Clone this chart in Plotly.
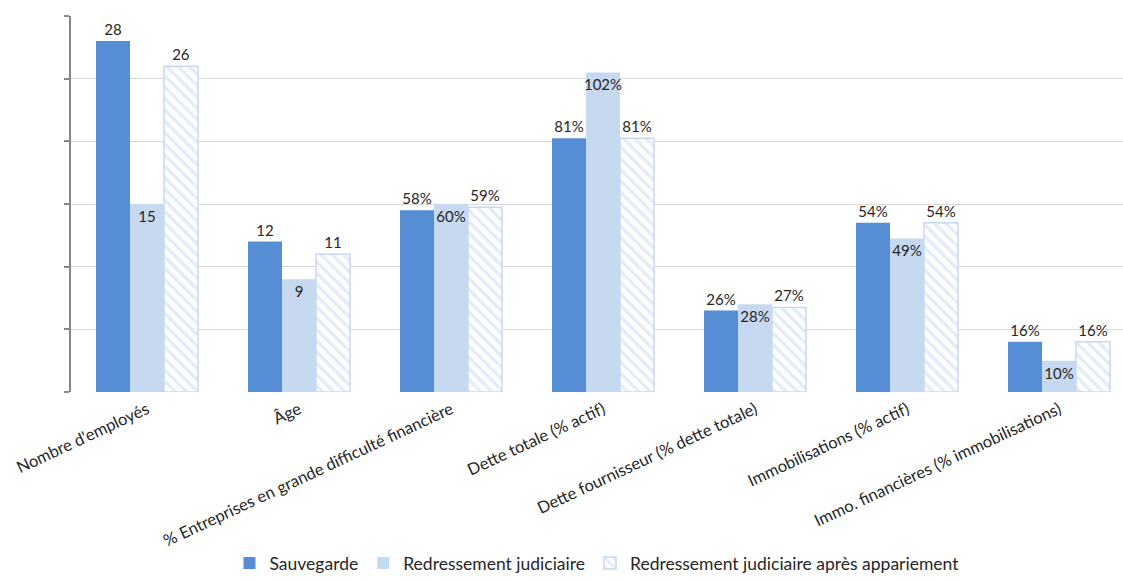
import plotly.graph_objects as go

# Indicator labels: the first two are counts (years / employees), the rest are shares
count_categories = ["Nombre d'employés", "Âge"]
share_categories = [
    "% Entreprises en grande difficulté financière",
    "Dette totale (% actif)",
    "Dette fournisseur (% dette totale)",
    "Immobilisations (% actif)",
    "Immo. financières (% immobilisations)",
]
categories = count_categories + share_categories

series_names = [
    "Sauvegarde",
    "Redressement judiciaire",
    "Redressement judiciaire après appariement",
]

# Count indicators per procedure
sauvegarde_counts = [28, 12]
redressement_counts = [15, 9]
apparie_counts = [26, 11]

# Share indicators per procedure (fractions)
sauvegarde_shares = [0.58, 0.81, 0.26, 0.54, 0.16]
redressement_shares = [0.60, 1.02, 0.28, 0.49, 0.10]
apparie_shares = [0.59, 0.81, 0.27, 0.54, 0.16]

DARK = "#558ED5"
LIGHT = "#C6D9F1"
TEXT = "#262626"
FONT = "Lato, 'Open Sans', sans-serif"

bar_w = 0.2237
offsets = [-1.5 * bar_w, -0.5 * bar_w, 0.5 * bar_w]

styles = [
    dict(marker=dict(color=DARK, line=dict(width=0)), textposition="outside"),
    dict(marker=dict(color=LIGHT, line=dict(width=0)), textposition="inside"),
    dict(
        marker=dict(
            color="white",
            line=dict(color=LIGHT, width=1.5),
            pattern=dict(shape="\\", fgcolor=LIGHT, bgcolor="white", size=8, solidity=0.42),
        ),
        textposition="outside",
    ),
]

counts = [sauvegarde_counts, redressement_counts, apparie_counts]
shares = [sauvegarde_shares, redressement_shares, apparie_shares]
label_font = dict(color=TEXT, size=15, family=FONT)

fig = go.Figure()
for i, name in enumerate(series_names):
    st = styles[i]
    fig.add_trace(go.Bar(
        x=count_categories, y=counts[i], name=name, legendgroup=name,
        width=bar_w, offset=offsets[i], yaxis="y",
        marker=st["marker"], textposition=st["textposition"], textangle=0,
        texttemplate="%{y:.0f}", textfont=label_font,
        cliponaxis=False,
    ))
    fig.add_trace(go.Bar(
        x=share_categories, y=shares[i], name=name, legendgroup=name, showlegend=False,
        width=bar_w, offset=offsets[i], yaxis="y2",
        marker=st["marker"], textposition=st["textposition"], textangle=0,
        texttemplate="%{y:.0%}", textfont=label_font,
        cliponaxis=False,
    ))

fig.update_layout(
    width=1123, height=581,
    margin=dict(l=71, r=0, t=16, b=189),
    paper_bgcolor="white", plot_bgcolor="white",
    barmode="overlay",
    font=dict(family=FONT, color=TEXT, size=15),
    uniformtext=dict(mode="show", minsize=15),
    xaxis=dict(
        type="category", categoryorder="array", categoryarray=categories,
        range=[-0.5, (1123 - 71) / 152 - 0.5],
        tickangle=-25, tickfont=dict(size=16.5, color=TEXT),
        showgrid=False, showline=False, ticks="", zeroline=False,
        automargin=False, ticklabelstandoff=4,
    ),
    yaxis=dict(
        range=[0, 30], dtick=5, showticklabels=False,
        showgrid=True, gridcolor="#D9D9D9", gridwidth=1,
        showline=True, linecolor="#868686", linewidth=1.5,
        ticks="outside", ticklen=5, tickcolor="#868686", tickwidth=1.5,
        zeroline=False, automargin=False,
    ),
    yaxis2=dict(
        range=[0, 1.2], overlaying="y", side="right",
        showticklabels=False, showgrid=False, showline=False, ticks="", zeroline=False,
        automargin=False,
    ),
    legend=dict(
        orientation="h", x=0.5, xanchor="center",
        yref="container", y=-0.016, yanchor="bottom",
        font=dict(size=17.5, color=TEXT), itemwidth=30, traceorder="normal",
        tracegroupgap=0,
    ),
    showlegend=True,
)

fig.write_html("out.html")
